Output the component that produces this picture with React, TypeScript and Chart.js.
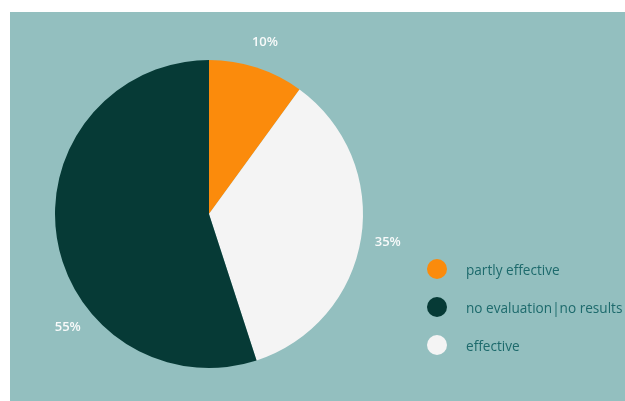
import React, { useEffect, useRef } from "react";
import { Chart, registerables } from "chart.js";

Chart.register(...registerables);

const categories = ["partly effective", "effective", "no evaluation|no results"];
const values = [10, 35, 55];
const colors = ["#FB8B0C", "#F4F4F4", "#063A36"];
const legendOrder = [0, 2, 1];
const labelAngleFrac = [0.5, 0.5, 0.35];

const labelPlugin = {
  id: "outerLabels",
  afterDatasetsDraw(chart: any) {
    const ctx = chart.ctx;
    const meta = chart.getDatasetMeta(0);
    ctx.save();
    ctx.fillStyle = "#F8FAFA";
    ctx.font = "600 13px 'Open Sans', sans-serif";
    ctx.textAlign = "center";
    ctx.textBaseline = "middle";
    meta.data.forEach((arc: any, i: number) => {
      const { x, y, startAngle, endAngle, outerRadius } = arc.getProps(
        ["x", "y", "startAngle", "endAngle", "outerRadius"],
        true
      );
      const a = startAngle + labelAngleFrac[i] * (endAngle - startAngle);
      const R = outerRadius + 27;
      ctx.fillText(values[i] + "%", x + Math.cos(a) * R, y + Math.sin(a) * R);
    });
    ctx.restore();
  },
};

export default function App() {
  const ref = useRef<HTMLCanvasElement>(null);
  useEffect(() => {
    if (!ref.current) return;
    const chart = new Chart(ref.current, {
      type: "pie",
      data: {
        labels: categories,
        datasets: [
          {
            data: values,
            backgroundColor: colors,
            borderWidth: 0,
          },
        ],
      },
      options: {
        animation: false,
        responsive: false,
        maintainAspectRatio: false,
        layout: { padding: { left: 45, right: 262, top: 48, bottom: 33 } },
        plugins: {
          legend: { display: false },
          tooltip: { enabled: false },
        },
      },
      plugins: [labelPlugin],
    });
    return () => chart.destroy();
  }, []);

  return (
    <div
      style={{
        position: "fixed",
        left: 0,
        top: 0,
        width: 625,
        height: 401,
        background: "#FFFFFF",
        overflow: "hidden",
      }}
    >
      <div
        style={{
          position: "absolute",
          left: 10,
          top: 12,
          width: 615,
          height: 389,
          background: "#93BFBF",
        }}
      >
        <canvas ref={ref} width={615} height={389} style={{ display: "block" }} />
        {legendOrder.map((idx, k) => (
          <div
            key={idx}
            style={{
              position: "absolute",
              left: 417,
              top: 247 + k * 38,
              height: 20,
              display: "flex",
              alignItems: "center",
              whiteSpace: "nowrap",
            }}
          >
            <span
              style={{
                display: "inline-block",
                width: 20,
                height: 20,
                borderRadius: 10,
                background: colors[idx],
              }}
            />
            <span
              style={{
                marginLeft: 19,
                fontFamily: "'Open Sans', sans-serif",
                fontSize: 13.6,
                color: "#1D6A6C",
              }}
            >
              {categories[idx]}
            </span>
          </div>
        ))}
      </div>
    </div>
  );
}
